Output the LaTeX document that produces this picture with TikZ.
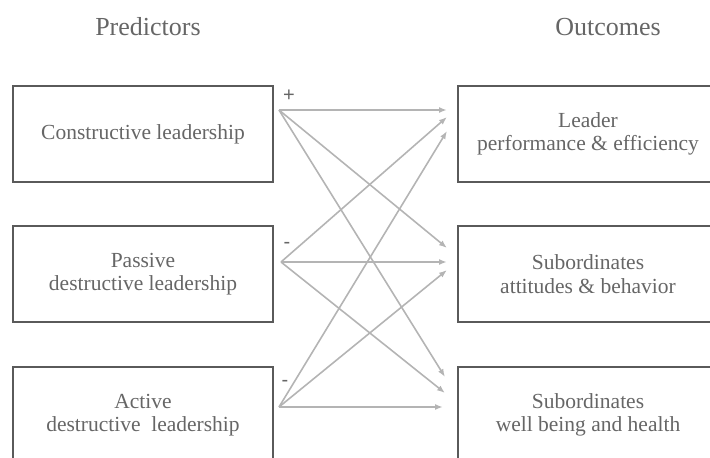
\documentclass[tikz,border=0pt]{standalone}
\usepackage{fontspec}
\setmainfont{Liberation Serif}
\newfontfamily\signfont{Liberation Sans}
\usetikzlibrary{arrows.meta}
\definecolor{boxgray}{HTML}{5A5A5A}
\definecolor{textgray}{HTML}{666666}
\definecolor{linkgray}{HTML}{B4B4B4}

\begin{document}
\begin{tikzpicture}[x=1pt, y=-1pt,
  box/.style={draw=boxgray, line width=1.8pt, minimum width=260pt, minimum height=96pt,
    text=textgray, align=center, font=\fontsize{21.5}{23.5}\selectfont},
  link/.style={draw=linkgray, line width=1.6pt, -{Latex[length=8pt,width=6pt]}},
  title/.style={text=textgray, font=\fontsize{26}{30}\selectfont},
  sign/.style={text=textgray, font=\signfont\fontsize{20}{20}\selectfont}]
  \clip (0, 0) rectangle (710, 458);

  % column headings
  \node[title] (predictors) at (148, 27) {Predictors};
  \node[title] (outcomes) at (608, 27) {Outcomes};

  % predictors
  \node[box] (constructive) at (143, 134) {Constructive leadership};
  \node[box] (passive) at (143, 274) {Passive\\destructive leadership};
  \node[box] (active) at (143, 415) {Active\\destructive\ \ leadership};

  % outcomes
  \node[box] (leader) at (588, 134) {Leader\\performance \& efficiency};
  \node[box] (attitudes) at (588, 274) {Subordinates\\attitudes \& behavior};
  \node[box] (health) at (588, 415) {Subordinates\\well being and health};

  % start and end points of the paths
  \coordinate (s1) at (279, 110);
  \coordinate (s2) at (281, 262);
  \coordinate (s3) at (279, 407);
  \coordinate (t11) at (447, 110);
  \coordinate (t12) at (447, 117);
  \coordinate (t13) at (447, 131);
  \coordinate (t21) at (447, 248);
  \coordinate (t22) at (447, 262);
  \coordinate (t23) at (447, 270);
  \coordinate (t31) at (445, 377);
  \coordinate (t32) at (445, 393);
  \coordinate (t33) at (443, 407);

  \foreach \s/\t in {s1/t11, s1/t21, s1/t31, s2/t12, s2/t22, s2/t32, s3/t13, s3/t23, s3/t33}
    \draw[link] (\s) -- (\t);

  \node[sign] (plus) at (289, 96) {+};
  \node[sign] (minusp) at (287, 245) {-};
  \node[sign] (minusa) at (285, 383) {-};
\end{tikzpicture}
\end{document}
